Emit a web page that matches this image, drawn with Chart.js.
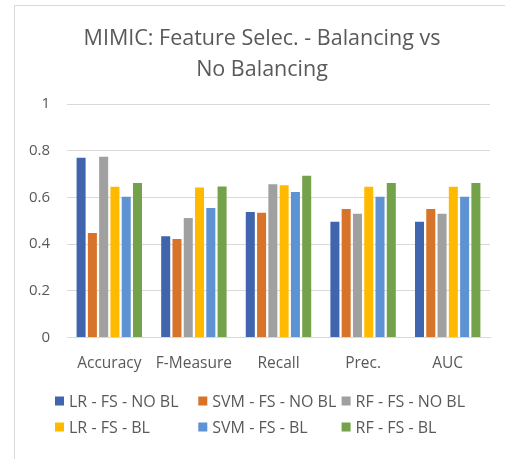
<!DOCTYPE html>
<html>
<head>
<meta charset="utf-8">
<script src="https://cdn.jsdelivr.net/npm/chart.js@4"></script>
<style>
  html, body { margin: 0; padding: 0; background: #fff; }
  #frame {
    position: absolute; left: 14px; top: 5px;
    width: 490px; height: 453px;
    border-left: 1px solid #d9d9d9; border-top: 1px solid #d9d9d9;
  }
</style>
</head>
<body>
<div id="frame"><canvas id="chart" width="490" height="453"></canvas></div>
<script>
// data
const categories = ['Accuracy', 'F-Measure', 'Recall', 'Prec.', 'AUC'];
const seriesNames = ['LR - FS - NO BL', 'SVM - FS - NO BL', 'RF - FS - NO BL',
                     'LR - FS - BL', 'SVM - FS - BL', 'RF - FS - BL'];
const lrNoBl  = [0.77, 0.434, 0.537, 0.496, 0.496];
const svmNoBl = [0.447, 0.422, 0.534, 0.55, 0.55];
const rfNoBl  = [0.774, 0.512, 0.656, 0.53, 0.53];
const lrBl    = [0.646, 0.642, 0.652, 0.646, 0.646];
const svmBl   = [0.603, 0.555, 0.623, 0.603, 0.603];
const rfBl    = [0.662, 0.647, 0.693, 0.662, 0.662];
const yTicks  = [0, 0.2, 0.4, 0.6, 0.8, 1];

const colors = ['#4064AE', '#D8732A', '#A0A0A0', '#FFBA00', '#5E92D2', '#74A24A'];
const allValues = [lrNoBl, svmNoBl, rfNoBl, lrBl, svmBl, rfBl];
const FONT = '"Open Sans", sans-serif';
const GREY = '#595959';

// Excel-style legend: 3 equal columns, 2 rows
const gridLegend = {
  id: 'gridLegend',
  afterLayout(chart) {
    // Excel centres the title over the whole frame, not just right of the axis
    chart.titleBlock.left += 19;
  },
  afterDraw(chart) {
    const ctx = chart.ctx;
    const colW = 143.3, x0 = 40, rowY = [395, 421], box = 9;
    ctx.save();
    ctx.font = '16px ' + FONT;
    ctx.textBaseline = 'middle';
    ctx.textAlign = 'left';
    chart.data.datasets.forEach((ds, i) => {
      const x = x0 + (i % 3) * colW;
      const y = rowY[Math.floor(i / 3)];
      ctx.fillStyle = ds.backgroundColor;
      ctx.fillRect(x, y - box / 2, box, box);
      ctx.fillStyle = GREY;
      ctx.fillText(ds.label, x + box + 5, y + 1);
    });
    ctx.restore();
  }
};

new Chart(document.getElementById('chart'), {
  type: 'bar',
  data: {
    labels: categories,
    datasets: seriesNames.map((name, i) => ({
      label: name,
      data: allValues[i],
      backgroundColor: colors[i],
      categoryPercentage: 0.8,
      barPercentage: 0.8
    }))
  },
  options: {
    responsive: false,
    animation: false,
    layout: { padding: { left: 0, right: 15, top: 0, bottom: 77 } },
    plugins: {
      legend: { display: false },
      tooltip: { enabled: false },
      title: {
        display: true,
        text: ['MIMIC: Feature Selec. - Balancing vs', 'No Balancing'],
        color: GREY,
        font: { family: FONT, size: 21.5, weight: 'normal', lineHeight: 1.42 },
        padding: { top: 18, bottom: 19 }
      }
    },
    scales: {
      x: {
        grid: { display: false },
        border: { color: '#d9d9d9' },
        ticks: { color: GREY, font: { family: FONT, size: 15.5 }, padding: 9 }
      },
      y: {
        min: 0,
        max: 1,
        afterBuildTicks: (axis) => { axis.ticks = yTicks.map(v => ({ value: v })); },
        afterFit: (axis) => { axis.width = 52; },
        grid: { color: '#d9d9d9', drawTicks: false },
        border: { display: false },
        ticks: {
          color: GREY,
          font: { family: FONT, size: 15 },
          padding: 17,
          callback: (v) => String(+v.toFixed(1))
        }
      }
    }
  },
  plugins: [gridLegend]
});
</script>
</body>
</html>
